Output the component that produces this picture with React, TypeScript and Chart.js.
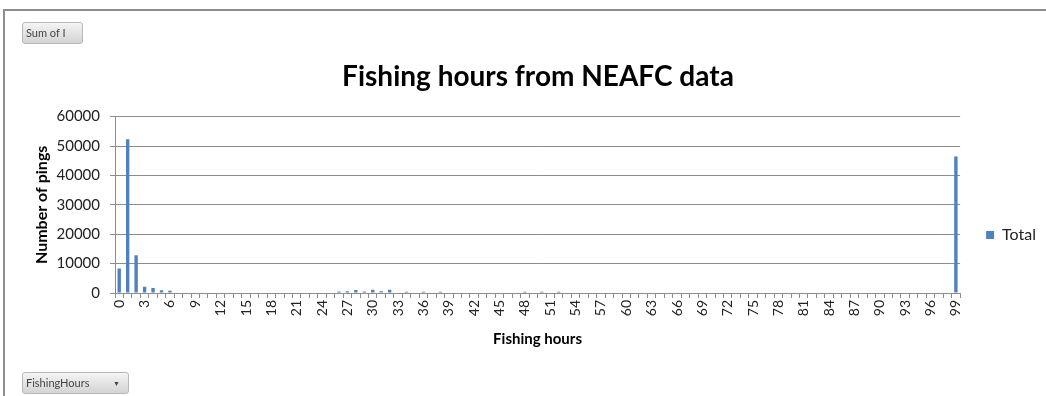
import React, { useEffect, useRef } from "react";
import { Chart, registerables } from "chart.js";

Chart.register(...registerables);

const hours: string[] = [
  "0", "1", "2", "3", "4", "5", "6", "7", "8", "9",
  "10", "11", "12", "13", "14", "15", "16", "17", "18", "19",
  "20", "21", "22", "23", "24", "25", "26", "27", "28", "29",
  "30", "31", "32", "33", "34", "35", "36", "37", "38", "39",
  "40", "41", "42", "43", "44", "45", "46", "47", "48", "49",
  "50", "51", "52", "53", "54", "55", "56", "57", "58", "59",
  "60", "61", "62", "63", "64", "65", "66", "67", "68", "69",
  "70", "71", "72", "73", "74", "75", "76", "77", "78", "79",
  "80", "81", "82", "83", "84", "85", "86", "87", "88", "89",
  "90", "91", "92", "93", "94", "95", "96", "97", "98", "99",
];

const totals: number[] = [
  8300, 52300, 12800, 2100, 1700, 900, 800, 0, 0, 0,
  0, 0, 0, 0, 0, 0, 0, 0, 0, 0,
  0, 0, 0, 0, 0, 0, 500, 600, 1000, 500,
  1100, 600, 1100, 0, 400, 0, 400, 0, 400, 0,
  0, 0, 0, 0, 0, 0, 0, 0, 400, 0,
  400, 0, 400, 0, 0, 0, 0, 0, 0, 0,
  0, 0, 0, 0, 0, 0, 0, 0, 0, 0,
  0, 0, 0, 0, 0, 0, 0, 0, 0, 0,
  0, 0, 0, 0, 0, 0, 0, 0, 0, 0,
  0, 0, 0, 0, 0, 0, 0, 0, 0, 46400,
];

const seriesName = "Total";
const chartTitle = "Fishing hours from NEAFC data";
const xTitle = "Fishing hours";
const yTitle = "Number of pings";
const yMax = 60000;
const yStep = 10000;
const labelEvery = 3;

const FONT = "Lato, 'Open Sans', sans-serif";
const GRID = "#8c8c8c";
const BAR = "#4f81bd";

export default function App() {
  const ref = useRef<HTMLCanvasElement | null>(null);

  useEffect(() => {
    if (!ref.current) return;
    const chart = new Chart(ref.current, {
      type: "bar",
      data: {
        labels: hours,
        datasets: [
          {
            label: seriesName,
            data: totals,
            backgroundColor: BAR,
            borderWidth: 0,
            categoryPercentage: 1,
            barPercentage: 0.4,
          },
        ],
      },
      options: {
        responsive: false,
        animation: false,
        layout: { padding: { left: 30, right: 0, top: 0, bottom: 40 } },
        plugins: {
          title: {
            display: true,
            text: chartTitle,
            color: "#000",
            font: { family: FONT, size: 28, weight: "bold", lineHeight: 1.2 },
            padding: { top: 60, bottom: 23 },
          },
          legend: {
            display: true,
            position: "right",
            title: {
              display: true,
              text: " ",
              font: { family: FONT, size: 10, lineHeight: 1.2 },
              padding: { top: 102, bottom: 0 },
            },
            labels: {
              boxWidth: 8,
              boxHeight: 8,
              padding: 26,
              color: "#222",
              font: { family: FONT, size: 16 },
            },
          },
          tooltip: { enabled: false },
        },
        scales: {
          x: {
            offset: true,
            afterFit: (s: any) => {
              s.height = 63;
            },
            grid: {
              display: true,
              drawOnChartArea: false,
              drawTicks: true,
              tickLength: 5,
              offset: true,
              color: GRID,
            },
            border: { color: GRID },
            ticks: {
              autoSkip: false,
              maxRotation: 90,
              minRotation: 90,
              padding: 2,
              color: "#222",
              font: { family: FONT, size: 14 },
              callback: (_v: any, i: number) => (i % labelEvery === 0 ? hours[i] : ""),
            },
            title: {
              display: true,
              text: xTitle,
              color: "#000",
              font: { family: FONT, size: 15, weight: "bold", lineHeight: 1.2 },
              padding: { top: 0, bottom: 8 },
            },
          },
          y: {
            min: 0,
            max: yMax,
            afterFit: (s: any) => {
              s.width = 85;
            },
            grid: { color: GRID, tickLength: 5 },
            border: { color: GRID },
            ticks: {
              stepSize: yStep,
              padding: 10,
              color: "#222",
              font: { family: FONT, size: 15 },
              callback: (v: any) => String(v),
            },
            title: {
              display: true,
              text: yTitle,
              color: "#000",
              font: { family: FONT, size: 16, weight: "bold", lineHeight: 1.1 },
              padding: { top: 3, bottom: 0 },
            },
          },
        },
      },
    });
    return () => chart.destroy();
  }, []);

  const btn: React.CSSProperties = {
    position: "absolute",
    height: 22,
    border: "1px solid #b8b8b8",
    borderRadius: 3,
    background: "linear-gradient(#f4f4f4, #d4d4d4)",
    fontFamily: FONT,
    fontSize: 11,
    color: "#444",
    lineHeight: "20px",
    paddingLeft: 3,
    boxSizing: "border-box",
    whiteSpace: "nowrap",
  };

  return (
    <div style={{ position: "absolute", left: 0, top: 0, width: 1046, height: 396, background: "#fff", overflow: "hidden" }}>
      <canvas ref={ref} width={1046} height={396} style={{ position: "absolute", left: 0, top: 0 }} />
      <div
        style={{
          position: "absolute",
          left: 3,
          top: 9,
          width: 1043,
          height: 387,
          borderTop: "2px solid #8e8e8e",
          borderLeft: "2px solid #8e8e8e",
          boxSizing: "border-box",
          pointerEvents: "none",
        }}
      />
      <div style={{ ...btn, left: 22, top: 22, width: 61 }}>Sum of I</div>
      <div style={{ ...btn, left: 22, top: 372, width: 107 }}>
        FishingHours
        <span style={{ position: "absolute", right: 8, top: 0, fontSize: 7 }}>▼</span>
      </div>
    </div>
  );
}
